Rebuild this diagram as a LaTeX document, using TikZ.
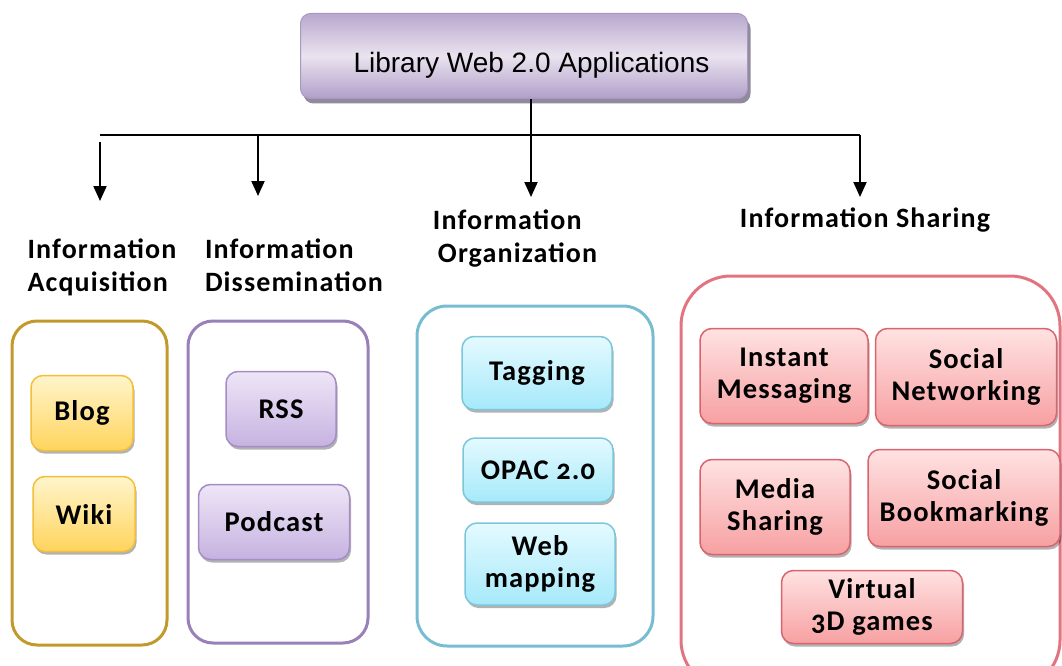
\documentclass[tikz,border=0pt]{standalone}
\usepackage{fontspec}
\setmainfont{Carlito}[Numbers=OldStyle]
\newfontfamily\titlefont{Liberation Sans}
\newfontfamily\boxfont{Carlito}[LetterSpace=4,Numbers=OldStyle]
\usetikzlibrary{arrows.meta,shadows}

% palette
\definecolor{ttltop}{HTML}{B8A8CE}
\definecolor{ttlmid}{HTML}{EAE3EF}
\definecolor{ttlbot}{HTML}{B09FC9}
\definecolor{ttlborder}{HTML}{A999C2}
\definecolor{ttlshadow}{HTML}{908A9C}
\definecolor{acqC}{HTML}{C29A2C}
\definecolor{disC}{HTML}{9A80B8}
\definecolor{orgC}{HTML}{78BCD2}
\definecolor{shrC}{HTML}{E27480}
\definecolor{yelTop}{HTML}{FFF5CC}
\definecolor{yelBot}{HTML}{FFD45C}
\definecolor{yelLine}{HTML}{F3BF3A}
\definecolor{purTop}{HTML}{EEE6F7}
\definecolor{purBot}{HTML}{C6B2E0}
\definecolor{purLine}{HTML}{A58CC6}
\definecolor{cyaTop}{HTML}{E4FAFF}
\definecolor{cyaBot}{HTML}{A6E9FA}
\definecolor{cyaLine}{HTML}{7CC6DB}
\definecolor{pnkTop}{HTML}{FFE2E2}
\definecolor{pnkBot}{HTML}{F7A0A2}
\definecolor{pnkLine}{HTML}{D9646E}

\begin{document}
\begin{tikzpicture}[x=1pt,y=-1pt,
  titlebox/.style={draw=ttlborder, line width=1pt, rounded corners=10pt,
    top color=ttltop, bottom color=ttlbot, middle color=ttlmid,
    minimum width=447pt, minimum height=85pt, inner sep=0pt,
    text height=34pt, text depth=0pt,
    font=\titlefont\fontsize{28}{32}\selectfont,
    drop shadow={shadow xshift=3pt, shadow yshift=-5pt, fill=ttlshadow, opacity=1}},
  wire/.style={line width=2pt, black},
  arr/.style={wire, -{Triangle[width=13pt,length=15pt]}},
  grouplabel/.style={font=\boxfont\bfseries\fontsize{28}{33}\selectfont, inner sep=0pt},
  group/.style={rounded corners=#1, line width=3pt},
  item/.style={rounded corners=12pt, line width=1.5pt, inner sep=0pt, align=center,
    font=\boxfont\bfseries\fontsize{28.5}{32}\selectfont,
    drop shadow={shadow xshift=1.5pt, shadow yshift=-3pt, fill=black, opacity=.3}},
  yel/.style={item, draw=yelLine, top color=yelTop, bottom color=yelBot},
  pur/.style={item, draw=purLine, top color=purTop, bottom color=purBot},
  cya/.style={item, draw=cyaLine, top color=cyaTop, bottom color=cyaBot},
  pnk/.style={item, draw=pnkLine, top color=pnkTop, bottom color=pnkBot},
  box/.style 2 args={minimum width=#1pt, minimum height=#2pt}
]
\useasboundingbox (0,0) rectangle (1062,666);
\clip (0,0) rectangle (1062,666);

% root
\node[titlebox] (top) at (524,56) {\hspace*{15pt}Library Web 2.0 Applications};

% tree connectors
\coordinate (busL) at (100,135);
\coordinate (busR) at (860,135);
\coordinate (startA) at (100,142);
\coordinate (tipA) at (100,201);
\coordinate (tipD) at (258,196);
\coordinate (tipO) at (531,197);
\coordinate (tipS) at (860,197);
\draw[wire] (busL) -- (busR);
\draw[arr] (startA) -- (tipA);
\draw[arr] (busL -| tipD) -- (tipD);
\draw[arr] (top.south -| tipO) -- (tipO);
\draw[arr] (busR) -- (tipS);

% category headings
\node[grouplabel, align=left] (labA) at (102,267) {Information\\Acquisition};
\node[grouplabel, align=left] (labD) at (294,265) {Information\\Dissemination};
\node[grouplabel, align=left] (labO) at (515,239) {Information\\\hspace*{5pt}Organization};
\node[grouplabel] (labS) at (865,220) {Information Sharing};

% category frames
\draw[group=25pt, draw=acqC] (12,321) rectangle (167,645);
\draw[group=25pt, draw=disC] (188,321) rectangle (368,643);
\draw[group=30pt, draw=orgC] (417,306) rectangle (653,646);
\draw[group=50pt, draw=shrC] (681,276) rectangle (1060,690);

% acquisition tools
\node[yel, box={102}{75}] (blog) at (82,413) {Blog};
\node[yel, box={102}{75}] (wiki) at (84,514) {Wiki};

% dissemination tools
\node[pur, box={110}{75}] (rss) at (281,409) {RSS};
\node[pur, box={151}{75}] (podcast) at (274,522) {Podcast};

% organization tools
\node[cya, box={150}{73}] (tag) at (537,373) {Tagging};
\node[cya, box={150}{64}] (opac) at (538,470) {OPAC 2.0};
\node[cya, box={150}{82}] (webmap) at (540,564) {Web\\mapping};

% sharing tools
\node[pnk, box={168}{95}] (im) at (784,376) {Instant\\Messaging};
\node[pnk, box={181}{97}] (sn) at (966,377) {Social\\Networking};
\node[pnk, box={150}{95}] (ms) at (775,507) {Media\\Sharing};
\node[pnk, box={192}{97}] (sb) at (964,498) {Social\\Bookmarking};
\node[pnk, box={181}{73}] (v3d) at (872,607) {Virtual\\3D games};
\end{tikzpicture}
\end{document}
